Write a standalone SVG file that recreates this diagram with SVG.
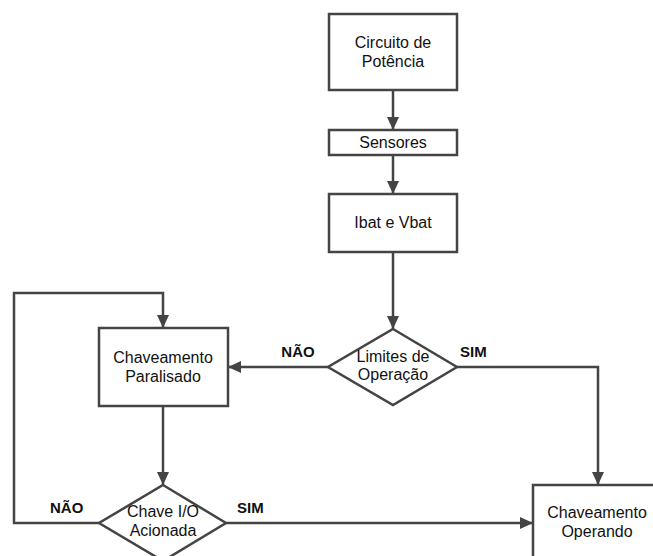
<svg xmlns="http://www.w3.org/2000/svg" width="653" height="556" viewBox="0 0 653 556">
<style>
.n{fill:#fff;stroke:#444;stroke-width:2.5}
.t{font-family:"Liberation Sans",Arial,sans-serif;font-size:16px;fill:#111;text-anchor:middle}
.l{font-family:"Liberation Sans",Arial,sans-serif;font-size:15px;font-weight:bold;fill:#111}
.c{fill:none;stroke:#444;stroke-width:2.5;marker-end:url(#a)}
</style>
<defs>
<marker id="a" markerUnits="userSpaceOnUse" markerWidth="14" markerHeight="14" viewBox="0 0 14 14" refX="13" refY="7" orient="auto">
<path d="M0,1 L13,7 L0,13 Z" fill="#444"/>
</marker>
</defs>
<g id="connectors">
<path class="c" d="M393,90 L393,130"/>
<path class="c" d="M393,155 L393,194"/>
<path class="c" d="M393,252 L393,329"/>
<path class="c" d="M457,367 L598,367 L598,485"/>
<path class="c" d="M328,367 L228,367"/>
<path class="c" d="M163,406 L163,485"/>
<path class="c" d="M99,523 L14,523 L14,293 L163,293 L163,328"/>
<path class="c" d="M226,523 L533,523"/>
<text class="l" x="298" y="357" text-anchor="middle">NÃO</text>
<text class="l" x="460" y="357">SIM</text>
<text class="l" x="50" y="513">NÃO</text>
<text class="l" x="237" y="513">SIM</text>
</g>
<g id="circuito">
<rect class="n" x="329" y="14" width="128" height="76"/>
<text class="t" x="393" y="48">Circuito de</text>
<text class="t" x="393" y="67">Potência</text>
</g>
<g id="sensores">
<rect class="n" x="329" y="130" width="128" height="25"/>
<text class="t" x="393" y="148">Sensores</text>
</g>
<g id="ibat">
<rect class="n" x="329" y="194" width="128" height="58"/>
<text class="t" x="393" y="228">Ibat e Vbat</text>
</g>
<g id="limites">
<polygon class="n" points="393,329 457,367 393,405 328,367"/>
<text class="t" x="393" y="362">Limites de</text>
<text class="t" x="393" y="380">Operação</text>
</g>
<g id="paralisado">
<rect class="n" x="99" y="328" width="129" height="78"/>
<text class="t" x="163" y="363">Chaveamento</text>
<text class="t" x="163" y="382">Paralisado</text>
</g>
<g id="chave">
<polygon class="n" points="163,485 226,523 163,561 99,523"/>
<text class="t" x="163" y="517">Chave I/O</text>
<text class="t" x="163" y="536">Acionada</text>
</g>
<g id="operando">
<rect class="n" x="533" y="485" width="130" height="80"/>
<text class="t" x="597" y="518">Chaveamento</text>
<text class="t" x="597" y="537">Operando</text>
</g>
</svg>
